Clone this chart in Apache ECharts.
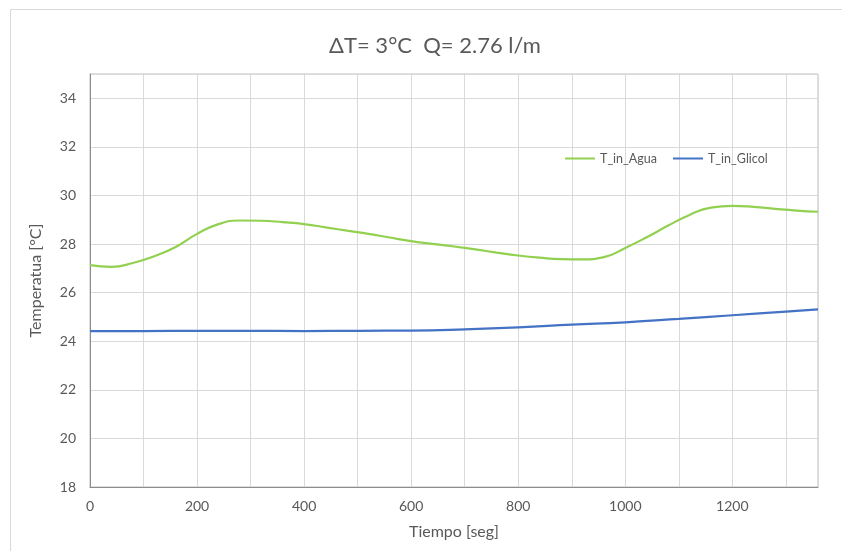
<!DOCTYPE html>
<html><head><meta charset="utf-8">
<script src="https://cdn.jsdelivr.net/npm/echarts@6/dist/echarts.min.js"></script>
<style>html,body{margin:0;padding:0;background:#fff}#c{width:842px;height:551px}</style>
</head><body><div id="c"></div>
<script>
const titleText = 'ΔT= 3°C  Q= 2.76 l/m';
const seriesNames = ['T_in_Agua', 'T_in_Glicol'];
const aguaT = [0,40,80,120,160,200,240,280,320,360,400,440,480,520,560,600,640,680,720,760,800,840,880,920,960,1000,1040,1080,1120,1160,1200,1240,1280,1320,1360];
const aguaV = [27.13,27.06,27.22,27.5,27.88,28.42,28.82,28.97,28.96,28.9,28.82,28.69,28.55,28.42,28.27,28.12,28.01,27.9,27.78,27.65,27.53,27.44,27.38,27.37,27.46,27.84,28.28,28.76,29.2,29.5,29.57,29.53,29.45,29.38,29.33];
const glicolT = [0,100,200,300,400,500,600,700,800,900,1000,1100,1200,1300,1360];
const glicolV = [24.42,24.42,24.43,24.43,24.42,24.43,24.44,24.49,24.57,24.68,24.78,24.92,25.07,25.22,25.31];
const xName = 'Tiempo [seg]';
const yName = 'Temperatua [°C]';

const font = 'Lato, "Open Sans", sans-serif';
const txt = '#595959';
const chart = echarts.init(document.getElementById('c'), null, {renderer:'canvas'});
chart.setOption({
  animation:false,
  backgroundColor:'#fff',
  textStyle:{fontFamily:font},
  graphic:[{type:'rect',left:8,top:7,shape:{width:860,height:570},style:{fill:'none',stroke:'#d9d9d9',lineWidth:1},silent:true}],
  title:{text:titleText,left:430,top:30,textAlign:'center',textStyle:{color:txt,fontSize:22,fontWeight:'normal',fontFamily:font}},
  grid:{left:90,top:74,right:24,bottom:64,show:true,borderColor:'#bfbfbf',borderWidth:1},
  legend:{left:560,top:147,itemWidth:30,itemHeight:10,itemGap:16,icon:'path://M0,4L30,4L30,6L0,6Z',
    textStyle:{color:txt,fontSize:12.5,fontFamily:font},data:seriesNames},
  xAxis:{type:'value',min:0,max:1360,interval:100,name:xName,nameLocation:'middle',nameGap:37,
    nameTextStyle:{color:txt,fontSize:16},
    axisLine:{lineStyle:{color:'#8c8c8c'}},axisTick:{show:false},
    axisLabel:{color:txt,fontSize:14,margin:12,showMaxLabel:false,formatter:v=>(v%200===0?String(v):'')},
    splitLine:{lineStyle:{color:'#d9d9d9'}}},
  yAxis:{type:'value',min:18,max:35,interval:2,name:yName,nameLocation:'middle',nameGap:46,
    nameTextStyle:{color:txt,fontSize:16},
    axisLine:{show:true,lineStyle:{color:'#8c8c8c'}},axisTick:{show:false},
    axisLabel:{color:txt,fontSize:14,margin:14,showMaxLabel:false,formatter:v=>(v%2===0?String(v):'')},
    splitLine:{lineStyle:{color:'#d9d9d9'}}},
  series:[
    {name:seriesNames[0],type:'line',showSymbol:false,smooth:0.5,color:'#92d050',lineStyle:{width:2.2},
      data:aguaT.map((t,i)=>[t,aguaV[i]])},
    {name:seriesNames[1],type:'line',showSymbol:false,smooth:0.5,color:'#4472c4',lineStyle:{width:2.2},
      data:glicolT.map((t,i)=>[t,glicolV[i]])}
  ]
});
</script></body></html>
